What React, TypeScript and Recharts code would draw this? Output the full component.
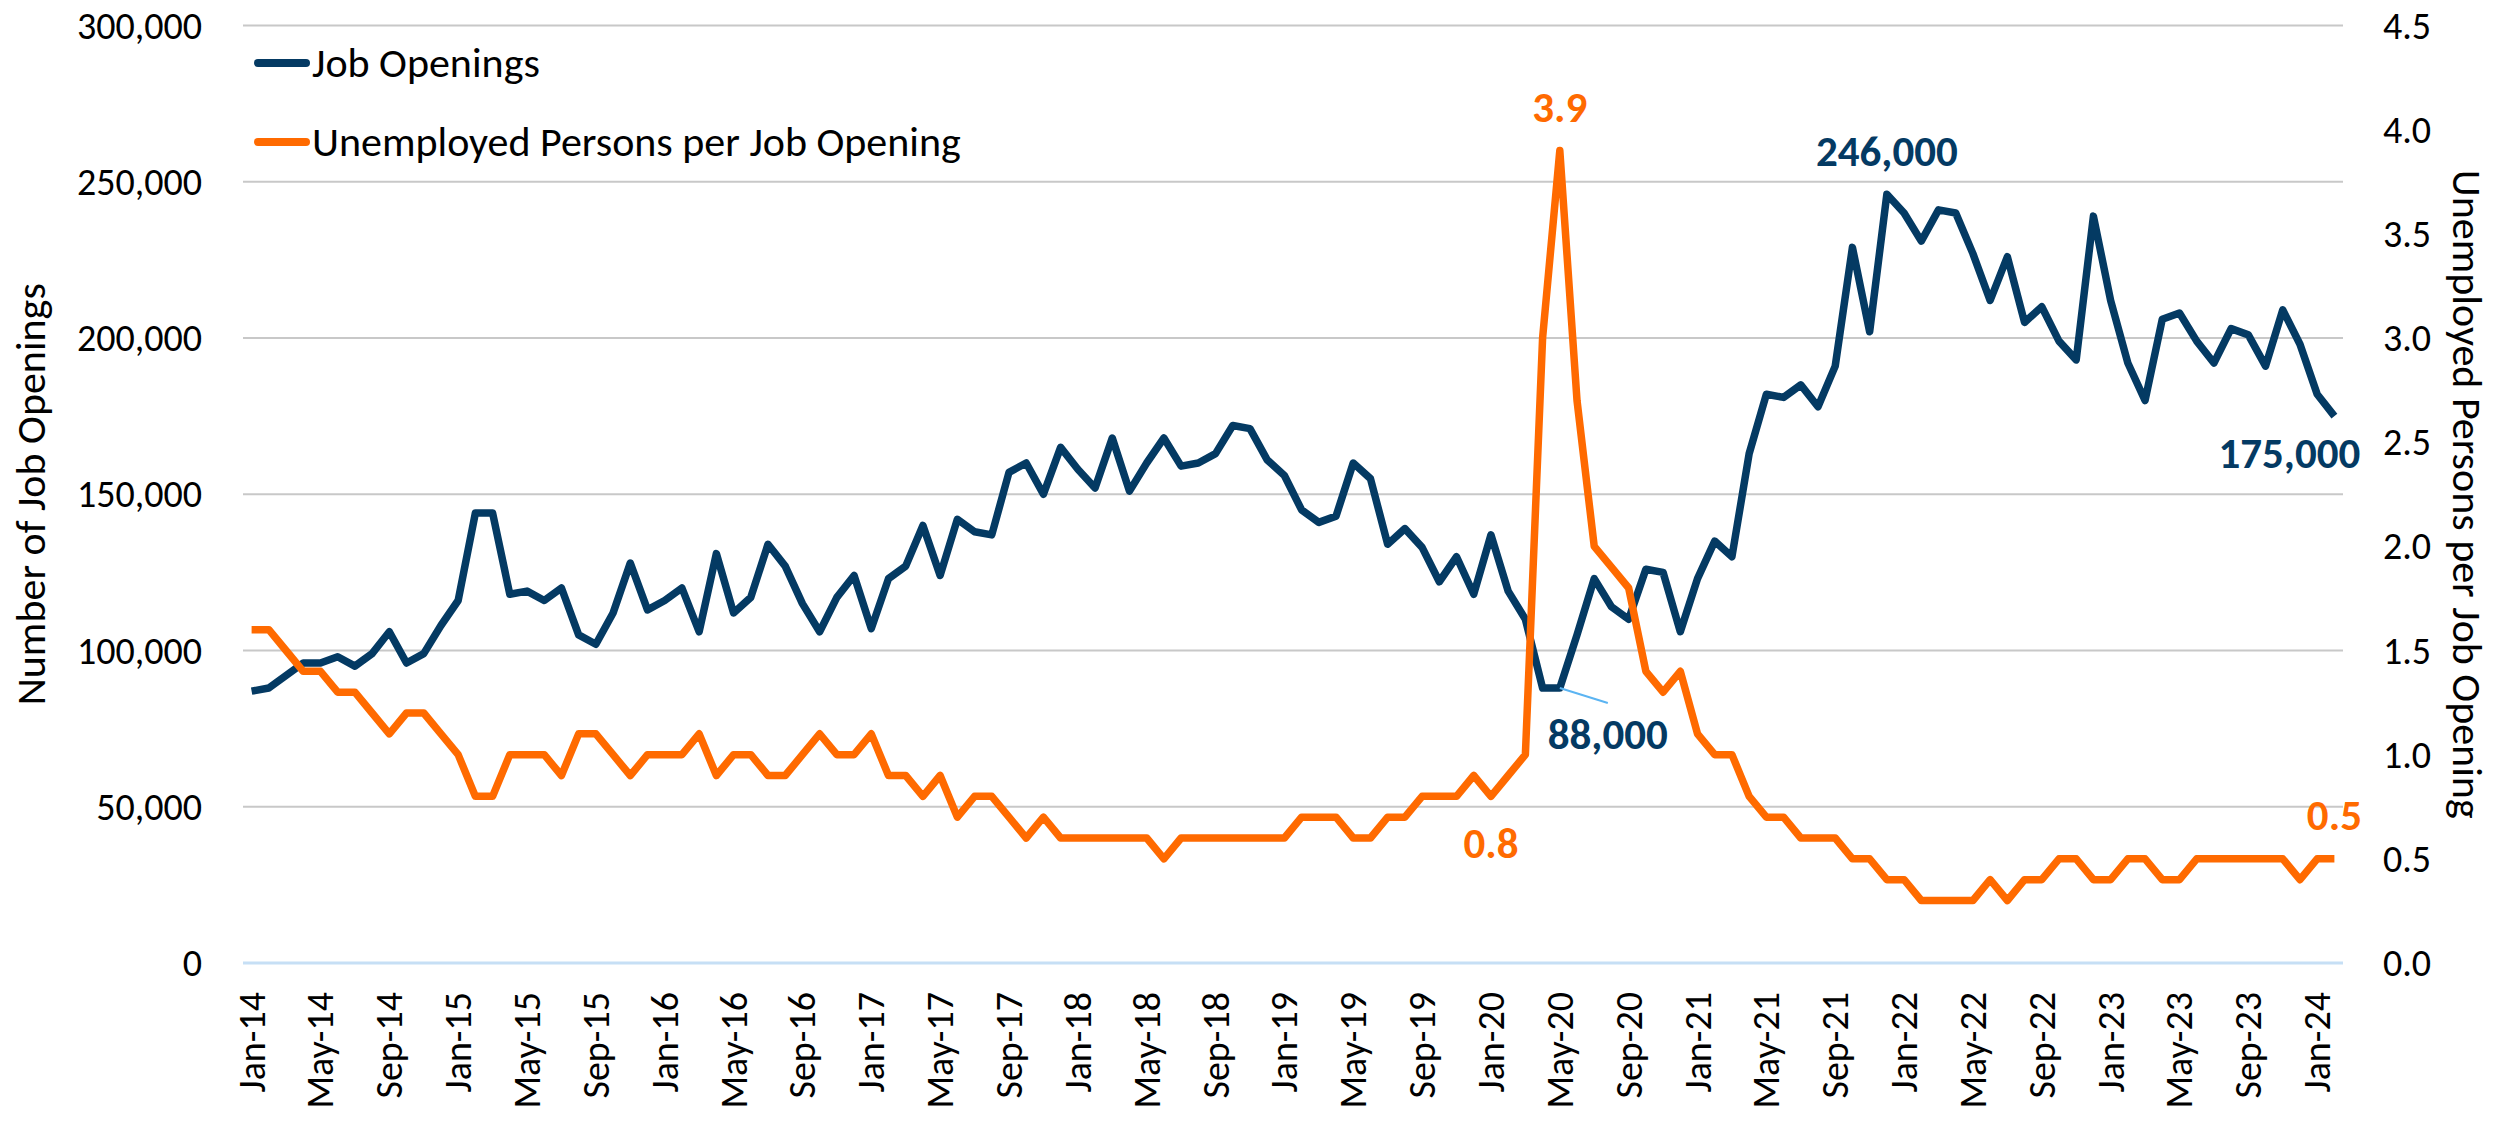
import React from "react";
import { CartesianGrid, LabelList, Legend, Line, LineChart, XAxis, YAxis } from "recharts";

// Job openings vs. unemployed persons per opening, monthly Jan-14 .. Feb-24.

const MONTH_NAMES = ["Jan", "Feb", "Mar", "Apr", "May", "Jun", "Jul", "Aug", "Sep", "Oct", "Nov", "Dec"];
const FIRST_YEAR = 2014;

const jobOpenings = [
  87000, 88000, 92000, 96000, 96000, 98000, 95000, 99000, 106000, 96000, 99000, 108000,
  116000, 144000, 144000, 118000, 119000, 116000, 120000, 105000, 102000, 112000, 128000, 113000,
  116000, 120000, 106000, 131000, 112000, 117000, 134000, 127000, 115000, 106000, 117000, 124000,
  107000, 123000, 127000, 140000, 124000, 142000, 138000, 137000, 157000, 160000, 150000, 165000,
  158000, 152000, 168000, 151000, 160000, 168000, 159000, 160000, 163000, 172000, 171000, 161000,
  156000, 145000, 141000, 143000, 160000, 155000, 134000, 139000, 133000, 122000, 130000, 118000,
  137000, 119000, 110000, 88000, 88000, 105000, 123000, 114000, 110000, 126000, 125000, 106000,
  123000, 135000, 130000, 163000, 182000, 181000, 185000, 178000, 191000, 229000, 202000, 246000,
  240000, 231000, 241000, 240000, 227000, 212000, 226000, 205000, 210000, 199000, 193000, 239000,
  212000, 192000, 180000, 206000, 208000, 199000, 192000, 203000, 201000, 191000, 209000, 198000,
  182000, 175000,
];

const unemployedPerOpening = [
  1.6, 1.6, 1.5, 1.4, 1.4, 1.3, 1.3, 1.2, 1.1, 1.2, 1.2, 1.1,
  1.0, 0.8, 0.8, 1.0, 1.0, 1.0, 0.9, 1.1, 1.1, 1.0, 0.9, 1.0,
  1.0, 1.0, 1.1, 0.9, 1.0, 1.0, 0.9, 0.9, 1.0, 1.1, 1.0, 1.0,
  1.1, 0.9, 0.9, 0.8, 0.9, 0.7, 0.8, 0.8, 0.7, 0.6, 0.7, 0.6,
  0.6, 0.6, 0.6, 0.6, 0.6, 0.5, 0.6, 0.6, 0.6, 0.6, 0.6, 0.6,
  0.6, 0.7, 0.7, 0.7, 0.6, 0.6, 0.7, 0.7, 0.8, 0.8, 0.8, 0.9,
  0.8, 0.9, 1.0, 3.0, 3.9, 2.7, 2.0, 1.9, 1.8, 1.4, 1.3, 1.4,
  1.1, 1.0, 1.0, 0.8, 0.7, 0.7, 0.6, 0.6, 0.6, 0.5, 0.5, 0.4,
  0.4, 0.3, 0.3, 0.3, 0.3, 0.4, 0.3, 0.4, 0.4, 0.5, 0.5, 0.4,
  0.4, 0.5, 0.5, 0.4, 0.4, 0.5, 0.5, 0.5, 0.5, 0.5, 0.5, 0.4,
  0.5, 0.5,
];

const months = jobOpenings.map(
  (_, i) => `${MONTH_NAMES[i % 12]}-${String((FIRST_YEAR + Math.floor(i / 12)) % 100).padStart(2, "0")}`
);

const leftTicks = [0, 50000, 100000, 150000, 200000, 250000, 300000];
const rightTicks = [0, 0.5, 1.0, 1.5, 2.0, 2.5, 3.0, 3.5, 4.0, 4.5];

const data = months.map((month, i) => ({ month, jobs: jobOpenings[i], ratio: unemployedPerOpening[i] }));

const NAVY = "#043A63";
const ORANGE = "#FF6A00";
const FONT = "Carlito, Calibri, Lato, sans-serif";
const FS = 38; // tick numbers / month labels
const FS_TEXT = 42; // legend + axis titles
const FS_LABEL = 43; // bold value callouts

const fmtThousands = (n: number) => n.toLocaleString("en-US");

function XTick({ x, y, payload }: any) {
  return (
    <text x={x} y={y} transform={`rotate(-90 ${x} ${y})`} textAnchor="end" dominantBaseline="central" fontSize={FS} fontFamily={FONT} fill="#000">
      {payload.value}
    </text>
  );
}

function LeftTick({ x, y, payload }: any) {
  return (
    <text x={x} y={y} textAnchor="end" dominantBaseline="central" fontSize={FS} fontFamily={FONT} fill="#000">
      {fmtThousands(payload.value)}
    </text>
  );
}

function RightTick({ x, y, payload }: any) {
  return (
    <text x={x} y={y} textAnchor="start" dominantBaseline="central" fontSize={FS} fontFamily={FONT} fill="#000">
      {Number(payload.value).toFixed(1)}
    </text>
  );
}

// Label passes its own `angle` prop, so the rotation travels as `rot`
function AxisTitle({ viewBox, text, dx, rot }: any) {
  const cx = viewBox.x + dx;
  const cy = viewBox.y + viewBox.height / 2;
  return (
    <text x={cx} y={cy} transform={`rotate(${rot} ${cx} ${cy})`} textAnchor="middle" dominantBaseline="central" fontSize={FS_TEXT} fontFamily={FONT} fill="#000">
      {text}
    </text>
  );
}

// which points carry a value label, and where it sits relative to the point
const jobsCallouts: Record<number, { dx: number; dy: number; leader?: boolean }> = {
  76: { dx: 48, dy: 46, leader: true },
  95: { dx: 0, dy: -43 },
  121: { dx: -45, dy: 37 },
};
const ratioCallouts: Record<number, { dx: number; dy: number }> = {
  72: { dx: 0, dy: 47 },
  76: { dx: 0, dy: -43 },
  121: { dx: 0, dy: -43 },
};

function JobsLabel(props: any) {
  const c = jobsCallouts[props.index];
  if (!c) return null;
  const x = Number(props.x);
  const y = Number(props.y);
  return (
    <g>
      {c.leader && <line x1={x} y1={y} x2={x + c.dx} y2={y + 15} stroke="#5BB4F2" strokeWidth={2} />}
      <text x={x + c.dx} y={y + c.dy} textAnchor="middle" dominantBaseline="central" fontSize={FS_LABEL} fontWeight={700} fontFamily={FONT} fill={NAVY}>
        {fmtThousands(Number(props.value))}
      </text>
    </g>
  );
}

function RatioLabel(props: any) {
  const c = ratioCallouts[props.index];
  if (!c) return null;
  const x = Number(props.x);
  const y = Number(props.y);
  return (
    <text x={x + c.dx} y={y + c.dy} textAnchor="middle" dominantBaseline="central" fontSize={FS_LABEL} fontWeight={700} fontFamily={FONT} fill={ORANGE}>
      {Number(props.value).toFixed(1)}
    </text>
  );
}

const legendItems = [
  { label: "Job Openings", color: NAVY },
  { label: "Unemployed Persons per Job Opening", color: ORANGE },
];

function LegendBox() {
  return (
    <div style={{ display: "flex", flexDirection: "column" }}>
      {legendItems.map((it) => (
        <div key={it.label} style={{ display: "flex", alignItems: "center", height: 79 }}>
          <span style={{ width: 56, height: 8, borderRadius: 4, background: it.color, flexShrink: 0 }} />
          <span style={{ marginLeft: 2, fontSize: FS_TEXT, fontFamily: FONT, color: "#000", whiteSpace: "nowrap", lineHeight: 1 }}>{it.label}</span>
        </div>
      ))}
    </div>
  );
}

export default function App() {
  return (
    <div style={{ position: "absolute", left: 0, top: 0, width: 2501, height: 1124, background: "#fff" }}>
      <LineChart width={2501} height={1124} data={data} margin={{ top: 25.5, right: 0, bottom: 0, left: 0 }}>
        <CartesianGrid yAxisId="left" vertical={false} stroke="#C8C8C8" strokeWidth={2} />
        <XAxis
          dataKey="month"
          interval={3}
          height={161}
          padding={{ left: 8.6, right: 8.6 }}
          axisLine={{ stroke: "#C6DFF5", strokeWidth: 3 }}
          tickLine={false}
          tickSize={0}
          tickMargin={29}
          tick={<XTick />}
        />
        <YAxis
          yAxisId="left"
          width={243}
          domain={[0, 300000]}
          ticks={leftTicks}
          axisLine={false}
          tickLine={false}
          tickSize={0}
          tickMargin={41}
          tick={<LeftTick />}
          label={<AxisTitle text="Number of Job Openings" dx={30} rot={-90} />}
        />
        <YAxis
          yAxisId="right"
          orientation="right"
          width={158}
          domain={[0, 4.5]}
          ticks={rightTicks}
          axisLine={false}
          tickLine={false}
          tickSize={0}
          tickMargin={40}
          tick={<RightTick />}
          label={<AxisTitle text="Unemployed Persons per Job Opening" dx={124} rot={90} />}
        />
        <Legend content={<LegendBox />} verticalAlign="middle" align="center" wrapperStyle={{ left: 254, top: 23.5, width: 900 }} />
        <Line
          yAxisId="left"
          dataKey="jobs"
          name="Job Openings"
          type="linear"
          stroke={NAVY}
          strokeWidth={7.5}
          strokeLinejoin="round"
          dot={false}
          isAnimationActive={false}
        >
          <LabelList dataKey="jobs" content={<JobsLabel />} />
        </Line>
        <Line
          yAxisId="right"
          dataKey="ratio"
          name="Unemployed Persons per Job Opening"
          type="linear"
          stroke={ORANGE}
          strokeWidth={7.5}
          strokeLinejoin="round"
          dot={false}
          isAnimationActive={false}
        >
          <LabelList dataKey="ratio" content={<RatioLabel />} />
        </Line>
      </LineChart>
    </div>
  );
}
